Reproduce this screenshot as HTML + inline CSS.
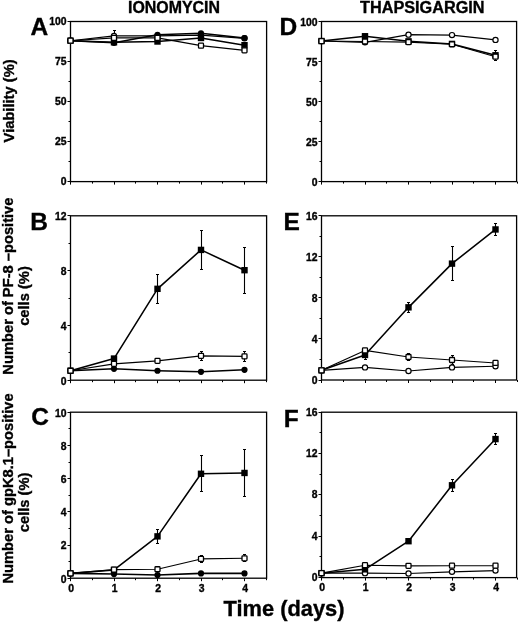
<!DOCTYPE html>
<html lang="en">
<head>
<meta charset="utf-8">
<title>Figure</title>
<style>
html,body{margin:0;padding:0;background:#fff;}
svg{display:block;filter:grayscale(1) blur(0.4px);}
text{font-family:"Liberation Sans", Arial, Helvetica, sans-serif;font-weight:bold;fill:#000;stroke:#000;stroke-width:0.35px;}
.tk{font-size:10.4px;}
.pl{font-size:24.5px;}
.tt{font-size:16px;}
.xl{font-size:21.5px;}
.yl{font-size:14.7px;}
</style>
</head>
<body>
<svg width="520" height="623" viewBox="0 0 520 623">
<rect x="0" y="0" width="520" height="623" fill="#fff"/>
<g>
<rect x="70.5" y="21.5" width="196.1" height="160.1" fill="none" stroke="#000" stroke-width="1.3"/>
<path d="M70.5 181.5h-3M70.5 161.5h-2M70.5 141.5h-3M70.5 121.5h-2M70.5 101.5h-3M70.5 81.5h-2M70.5 61.5h-3M70.5 41.5h-2M70.5 21.5h-3M70.5 181.6v3M92.5 181.6v2M114.5 181.6v3M135.5 181.6v2M157.5 181.6v3M179.5 181.6v2M201.5 181.6v3M222.5 181.6v2M244.5 181.6v3M266.5 181.6v2" stroke="#000" stroke-width="1" fill="none"/>
<text x="66.6" y="185.15" text-anchor="end" class="tk">0</text>
<text x="66.6" y="145.12" text-anchor="end" class="tk">25</text>
<text x="66.6" y="105.1" text-anchor="end" class="tk">50</text>
<text x="66.6" y="65.07" text-anchor="end" class="tk">75</text>
<text x="66.6" y="25.05" text-anchor="end" class="tk">100</text>
<text x="30.45" y="35.15" class="pl">A</text>
<polyline points="70.5,40.71 114,35.91 157.5,35.91 201,35.11 244.5,38.31" fill="none" stroke="#000" stroke-width="1.15" stroke-linejoin="round"/>
<polyline points="70.5,40.71 114,42.31 157.5,41.51 201,37.99 244.5,45.19" fill="none" stroke="#000" stroke-width="1.55" stroke-linejoin="round"/>
<polyline points="70.5,40.71 114,42.79 157.5,34.79 201,33.35 244.5,37.99" fill="none" stroke="#000" stroke-width="1.55" stroke-linejoin="round"/>
<polyline points="70.5,40.71 114,37.83 157.5,37.83 201,45.68 244.5,50.32" fill="none" stroke="#000" stroke-width="1.15" stroke-linejoin="round"/>
<path d="M114.5 30.5V44.5M113 30.5h3M113 44.5h3" stroke="#000" stroke-width="1.1" fill="none"/>
<circle cx="70.5" cy="40.71" r="2.6" fill="#fff" stroke="#000" stroke-width="1.2"/>
<circle cx="114" cy="35.91" r="2.6" fill="#fff" stroke="#000" stroke-width="1.2"/>
<circle cx="157.5" cy="35.91" r="2.6" fill="#fff" stroke="#000" stroke-width="1.2"/>
<circle cx="201" cy="35.11" r="2.6" fill="#fff" stroke="#000" stroke-width="1.2"/>
<circle cx="244.5" cy="38.31" r="2.6" fill="#fff" stroke="#000" stroke-width="1.2"/>
<rect x="67.3" y="37.51" width="6.4" height="6.4" fill="#000"/>
<rect x="110.8" y="39.11" width="6.4" height="6.4" fill="#000"/>
<rect x="154.3" y="38.31" width="6.4" height="6.4" fill="#000"/>
<rect x="197.8" y="34.79" width="6.4" height="6.4" fill="#000"/>
<rect x="241.3" y="41.99" width="6.4" height="6.4" fill="#000"/>
<circle cx="70.5" cy="40.71" r="3.1" fill="#000"/>
<circle cx="114" cy="42.79" r="3.1" fill="#000"/>
<circle cx="157.5" cy="34.79" r="3.1" fill="#000"/>
<circle cx="201" cy="33.35" r="3.1" fill="#000"/>
<circle cx="244.5" cy="37.99" r="3.1" fill="#000"/>
<rect x="68" y="38.21" width="5" height="5" rx="0.8" fill="#fff" stroke="#000" stroke-width="1.3"/>
<rect x="111.5" y="35.33" width="5" height="5" rx="0.8" fill="#fff" stroke="#000" stroke-width="1.3"/>
<rect x="155" y="35.33" width="5" height="5" rx="0.8" fill="#fff" stroke="#000" stroke-width="1.3"/>
<rect x="198.5" y="43.18" width="5" height="5" rx="0.8" fill="#fff" stroke="#000" stroke-width="1.3"/>
<rect x="242" y="47.82" width="5" height="5" rx="0.8" fill="#fff" stroke="#000" stroke-width="1.3"/>
</g>
<g>
<rect x="70.5" y="215.8" width="196.1" height="164.4" fill="none" stroke="#000" stroke-width="1.3"/>
<path d="M70.5 380.5h-3M70.5 352.5h-2M70.5 325.5h-3M70.5 298.5h-2M70.5 270.5h-3M70.5 243.5h-2M70.5 215.5h-3M70.5 380.2v3M92.5 380.2v2M114.5 380.2v3M135.5 380.2v2M157.5 380.2v3M179.5 380.2v2M201.5 380.2v3M222.5 380.2v2M244.5 380.2v3M266.5 380.2v2" stroke="#000" stroke-width="1" fill="none"/>
<text x="66.6" y="384.85" text-anchor="end" class="tk">0</text>
<text x="66.6" y="330.05" text-anchor="end" class="tk">4</text>
<text x="66.6" y="275.25" text-anchor="end" class="tk">8</text>
<text x="66.6" y="220.45" text-anchor="end" class="tk">12</text>
<text x="30.3" y="229.7" class="pl">B</text>
<polyline points="70.5,370.75 114,368.83 157.5,370.75 201,371.84 244.5,369.79" fill="none" stroke="#000" stroke-width="1.55" stroke-linejoin="round"/>
<polyline points="70.5,370.75 114,358.55 157.5,288.82 201,249.91 244.5,270.19" fill="none" stroke="#000" stroke-width="1.55" stroke-linejoin="round"/>
<polyline points="70.5,370.75 114,363.9 157.5,360.88 201,355.81 244.5,356.36" fill="none" stroke="#000" stroke-width="1.15" stroke-linejoin="round"/>
<path d="M157.5 274.5V303.5M156 274.5h3M156 303.5h3" stroke="#000" stroke-width="1.1" fill="none"/>
<path d="M201.5 230.5V269.5M200 230.5h3M200 269.5h3" stroke="#000" stroke-width="1.1" fill="none"/>
<path d="M244.5 247.5V293.5M243 247.5h3M243 293.5h3" stroke="#000" stroke-width="1.1" fill="none"/>
<path d="M201.5 351.5V360.5M200 351.5h3M200 360.5h3" stroke="#000" stroke-width="1.1" fill="none"/>
<path d="M244.5 351.5V361.5M243 351.5h3M243 361.5h3" stroke="#000" stroke-width="1.1" fill="none"/>
<circle cx="70.5" cy="370.75" r="3.1" fill="#000"/>
<circle cx="114" cy="368.83" r="3.1" fill="#000"/>
<circle cx="157.5" cy="370.75" r="3.1" fill="#000"/>
<circle cx="201" cy="371.84" r="3.1" fill="#000"/>
<circle cx="244.5" cy="369.79" r="3.1" fill="#000"/>
<rect x="67.3" y="367.55" width="6.4" height="6.4" fill="#000"/>
<rect x="110.8" y="355.35" width="6.4" height="6.4" fill="#000"/>
<rect x="154.3" y="285.62" width="6.4" height="6.4" fill="#000"/>
<rect x="197.8" y="246.71" width="6.4" height="6.4" fill="#000"/>
<rect x="241.3" y="266.99" width="6.4" height="6.4" fill="#000"/>
<rect x="68" y="368.25" width="5" height="5" rx="0.8" fill="#fff" stroke="#000" stroke-width="1.3"/>
<rect x="111.5" y="361.4" width="5" height="5" rx="0.8" fill="#fff" stroke="#000" stroke-width="1.3"/>
<rect x="155" y="358.38" width="5" height="5" rx="0.8" fill="#fff" stroke="#000" stroke-width="1.3"/>
<rect x="198.5" y="353.31" width="5" height="5" rx="0.8" fill="#fff" stroke="#000" stroke-width="1.3"/>
<rect x="242" y="353.86" width="5" height="5" rx="0.8" fill="#fff" stroke="#000" stroke-width="1.3"/>
</g>
<g>
<rect x="70.5" y="412.2" width="196.1" height="166" fill="none" stroke="#000" stroke-width="1.3"/>
<path d="M70.5 578.5h-3M70.5 561.5h-2M70.5 545.5h-3M70.5 528.5h-2M70.5 511.5h-3M70.5 495.5h-2M70.5 478.5h-3M70.5 462.5h-2M70.5 445.5h-3M70.5 428.5h-2M70.5 412.5h-3M70.5 578.2v3M92.5 578.2v2M114.5 578.2v3M135.5 578.2v2M157.5 578.2v3M179.5 578.2v2M201.5 578.2v3M222.5 578.2v2M244.5 578.2v3M266.5 578.2v2" stroke="#000" stroke-width="1" fill="none"/>
<text x="66.6" y="582.55" text-anchor="end" class="tk">0</text>
<text x="66.6" y="549.35" text-anchor="end" class="tk">2</text>
<text x="66.6" y="516.15" text-anchor="end" class="tk">4</text>
<text x="66.6" y="482.95" text-anchor="end" class="tk">6</text>
<text x="66.6" y="449.75" text-anchor="end" class="tk">8</text>
<text x="66.6" y="416.55" text-anchor="end" class="tk">10</text>
<text x="71.2" y="591.8" text-anchor="middle" class="tk">0</text>
<text x="114.7" y="591.8" text-anchor="middle" class="tk">1</text>
<text x="158.2" y="591.8" text-anchor="middle" class="tk">2</text>
<text x="201.7" y="591.8" text-anchor="middle" class="tk">3</text>
<text x="245.2" y="591.8" text-anchor="middle" class="tk">4</text>
<text x="31.2" y="424.65" class="pl">C</text>
<polyline points="70.5,573.39 114,574.05 157.5,575.05 201,573.39 244.5,573.39" fill="none" stroke="#000" stroke-width="1.55" stroke-linejoin="round"/>
<polyline points="70.5,573.39 114,569.9 157.5,536.37 201,473.79 244.5,472.96" fill="none" stroke="#000" stroke-width="1.55" stroke-linejoin="round"/>
<polyline points="70.5,573.39 114,569.57 157.5,569.24 201,558.94 244.5,558.28" fill="none" stroke="#000" stroke-width="1.15" stroke-linejoin="round"/>
<path d="M157.5 529.5V543.5M156 529.5h3M156 543.5h3" stroke="#000" stroke-width="1.1" fill="none"/>
<path d="M201.5 455.5V491.5M200 455.5h3M200 491.5h3" stroke="#000" stroke-width="1.1" fill="none"/>
<path d="M244.5 449.5V496.5M243 449.5h3M243 496.5h3" stroke="#000" stroke-width="1.1" fill="none"/>
<path d="M201.5 555.5V562.5M200 555.5h3M200 562.5h3" stroke="#000" stroke-width="1.1" fill="none"/>
<path d="M244.5 554.5V561.5M243 554.5h3M243 561.5h3" stroke="#000" stroke-width="1.1" fill="none"/>
<circle cx="70.5" cy="573.39" r="3.1" fill="#000"/>
<circle cx="114" cy="574.05" r="3.1" fill="#000"/>
<circle cx="157.5" cy="575.05" r="3.1" fill="#000"/>
<circle cx="201" cy="573.39" r="3.1" fill="#000"/>
<circle cx="244.5" cy="573.39" r="3.1" fill="#000"/>
<rect x="67.3" y="570.19" width="6.4" height="6.4" fill="#000"/>
<rect x="110.8" y="566.7" width="6.4" height="6.4" fill="#000"/>
<rect x="154.3" y="533.17" width="6.4" height="6.4" fill="#000"/>
<rect x="197.8" y="470.59" width="6.4" height="6.4" fill="#000"/>
<rect x="241.3" y="469.76" width="6.4" height="6.4" fill="#000"/>
<rect x="68" y="570.89" width="5" height="5" rx="0.8" fill="#fff" stroke="#000" stroke-width="1.3"/>
<rect x="111.5" y="567.07" width="5" height="5" rx="0.8" fill="#fff" stroke="#000" stroke-width="1.3"/>
<rect x="155" y="566.74" width="5" height="5" rx="0.8" fill="#fff" stroke="#000" stroke-width="1.3"/>
<rect x="198.5" y="556.44" width="5" height="5" rx="0.8" fill="#fff" stroke="#000" stroke-width="1.3"/>
<rect x="242" y="555.78" width="5" height="5" rx="0.8" fill="#fff" stroke="#000" stroke-width="1.3"/>
</g>
<g>
<rect x="321.5" y="21.5" width="195.1" height="160.1" fill="none" stroke="#000" stroke-width="1.3"/>
<path d="M321.5 181.5h-3M321.5 161.5h-2M321.5 141.5h-3M321.5 121.5h-2M321.5 101.5h-3M321.5 81.5h-2M321.5 61.5h-3M321.5 41.5h-2M321.5 21.5h-3M321.5 181.6v3M343.5 181.6v2M365.5 181.6v3M386.5 181.6v2M408.5 181.6v3M430.5 181.6v2M452.5 181.6v3M473.5 181.6v2M495.5 181.6v3M517.5 181.6v2" stroke="#000" stroke-width="1" fill="none"/>
<text x="317.6" y="185.65" text-anchor="end" class="tk">0</text>
<text x="317.6" y="145.62" text-anchor="end" class="tk">25</text>
<text x="317.6" y="105.6" text-anchor="end" class="tk">50</text>
<text x="317.6" y="65.57" text-anchor="end" class="tk">75</text>
<text x="317.6" y="25.55" text-anchor="end" class="tk">100</text>
<text x="279.5" y="35.35" class="pl">D</text>
<polyline points="321.5,41.03 365,42.31 408.5,34.63 452,35.11 495.5,39.91" fill="none" stroke="#000" stroke-width="1.15" stroke-linejoin="round"/>
<polyline points="321.5,41.03 365,36.23 408.5,41.35 452,43.91 495.5,55.28" fill="none" stroke="#000" stroke-width="1.55" stroke-linejoin="round"/>
<polyline points="321.5,41.03 365,41.51 408.5,42.15 452,44.23 495.5,56.72" fill="none" stroke="#000" stroke-width="1.15" stroke-linejoin="round"/>
<path d="M495.5 50.5V60.5M494 50.5h3M494 60.5h3" stroke="#000" stroke-width="1.1" fill="none"/>
<circle cx="321.5" cy="41.03" r="2.6" fill="#fff" stroke="#000" stroke-width="1.2"/>
<circle cx="365" cy="42.31" r="2.6" fill="#fff" stroke="#000" stroke-width="1.2"/>
<circle cx="408.5" cy="34.63" r="2.6" fill="#fff" stroke="#000" stroke-width="1.2"/>
<circle cx="452" cy="35.11" r="2.6" fill="#fff" stroke="#000" stroke-width="1.2"/>
<circle cx="495.5" cy="39.91" r="2.6" fill="#fff" stroke="#000" stroke-width="1.2"/>
<rect x="318.3" y="37.83" width="6.4" height="6.4" fill="#000"/>
<rect x="361.8" y="33.03" width="6.4" height="6.4" fill="#000"/>
<rect x="405.3" y="38.15" width="6.4" height="6.4" fill="#000"/>
<rect x="448.8" y="40.71" width="6.4" height="6.4" fill="#000"/>
<rect x="492.3" y="52.08" width="6.4" height="6.4" fill="#000"/>
<rect x="319" y="38.53" width="5" height="5" rx="0.8" fill="#fff" stroke="#000" stroke-width="1.3"/>
<rect x="362.5" y="39.01" width="5" height="5" rx="0.8" fill="#fff" stroke="#000" stroke-width="1.3"/>
<rect x="406" y="39.65" width="5" height="5" rx="0.8" fill="#fff" stroke="#000" stroke-width="1.3"/>
<rect x="449.5" y="41.73" width="5" height="5" rx="0.8" fill="#fff" stroke="#000" stroke-width="1.3"/>
<rect x="493" y="54.22" width="5" height="5" rx="0.8" fill="#fff" stroke="#000" stroke-width="1.3"/>
</g>
<g>
<rect x="321.5" y="215.8" width="195.1" height="164.2" fill="none" stroke="#000" stroke-width="1.3"/>
<path d="M321.5 380.5h-3M321.5 359.5h-2M321.5 338.5h-3M321.5 318.5h-2M321.5 297.5h-3M321.5 277.5h-2M321.5 256.5h-3M321.5 236.5h-2M321.5 215.5h-3M321.5 380v3M343.5 380v2M365.5 380v3M386.5 380v2M408.5 380v3M430.5 380v2M452.5 380v3M473.5 380v2M495.5 380v3M517.5 380v2" stroke="#000" stroke-width="1" fill="none"/>
<text x="317.6" y="384.45" text-anchor="end" class="tk">0</text>
<text x="317.6" y="343.4" text-anchor="end" class="tk">4</text>
<text x="317.6" y="302.35" text-anchor="end" class="tk">8</text>
<text x="317.6" y="261.3" text-anchor="end" class="tk">12</text>
<text x="317.6" y="220.25" text-anchor="end" class="tk">16</text>
<text x="283.4" y="229.5" class="pl">E</text>
<polyline points="321.5,370.35 365,367.38 408.5,370.97 452,367.38 495.5,366.25" fill="none" stroke="#000" stroke-width="1.15" stroke-linejoin="round"/>
<polyline points="321.5,370.35 365,354.96 408.5,307.34 452,263.62 495.5,229.45" fill="none" stroke="#000" stroke-width="1.55" stroke-linejoin="round"/>
<polyline points="321.5,370.35 365,350.44 408.5,357.01 452,359.99 495.5,362.96" fill="none" stroke="#000" stroke-width="1.15" stroke-linejoin="round"/>
<path d="M365.5 350.5V359.5M364 350.5h3M364 359.5h3" stroke="#000" stroke-width="1.1" fill="none"/>
<path d="M408.5 302.5V312.5M407 302.5h3M407 312.5h3" stroke="#000" stroke-width="1.1" fill="none"/>
<path d="M452.5 246.5V280.5M451 246.5h3M451 280.5h3" stroke="#000" stroke-width="1.1" fill="none"/>
<path d="M495.5 223.5V235.5M494 223.5h3M494 235.5h3" stroke="#000" stroke-width="1.1" fill="none"/>
<path d="M408.5 353.5V360.5M407 353.5h3M407 360.5h3" stroke="#000" stroke-width="1.1" fill="none"/>
<path d="M452.5 355.5V364.5M451 355.5h3M451 364.5h3" stroke="#000" stroke-width="1.1" fill="none"/>
<circle cx="321.5" cy="370.35" r="2.6" fill="#fff" stroke="#000" stroke-width="1.2"/>
<circle cx="365" cy="367.38" r="2.6" fill="#fff" stroke="#000" stroke-width="1.2"/>
<circle cx="408.5" cy="370.97" r="2.6" fill="#fff" stroke="#000" stroke-width="1.2"/>
<circle cx="452" cy="367.38" r="2.6" fill="#fff" stroke="#000" stroke-width="1.2"/>
<circle cx="495.5" cy="366.25" r="2.6" fill="#fff" stroke="#000" stroke-width="1.2"/>
<rect x="318.3" y="367.15" width="6.4" height="6.4" fill="#000"/>
<rect x="361.8" y="351.76" width="6.4" height="6.4" fill="#000"/>
<rect x="405.3" y="304.14" width="6.4" height="6.4" fill="#000"/>
<rect x="448.8" y="260.42" width="6.4" height="6.4" fill="#000"/>
<rect x="492.3" y="226.25" width="6.4" height="6.4" fill="#000"/>
<rect x="319" y="367.85" width="5" height="5" rx="0.8" fill="#fff" stroke="#000" stroke-width="1.3"/>
<rect x="362.5" y="347.94" width="5" height="5" rx="0.8" fill="#fff" stroke="#000" stroke-width="1.3"/>
<rect x="406" y="354.51" width="5" height="5" rx="0.8" fill="#fff" stroke="#000" stroke-width="1.3"/>
<rect x="449.5" y="357.49" width="5" height="5" rx="0.8" fill="#fff" stroke="#000" stroke-width="1.3"/>
<rect x="493" y="360.46" width="5" height="5" rx="0.8" fill="#fff" stroke="#000" stroke-width="1.3"/>
</g>
<g>
<rect x="321.5" y="412.2" width="195.1" height="165.4" fill="none" stroke="#000" stroke-width="1.3"/>
<path d="M321.5 577.5h-3M321.5 556.5h-2M321.5 536.5h-3M321.5 515.5h-2M321.5 494.5h-3M321.5 474.5h-2M321.5 453.5h-3M321.5 432.5h-2M321.5 412.5h-3M321.5 577.6v3M343.5 577.6v2M365.5 577.6v3M386.5 577.6v2M408.5 577.6v3M430.5 577.6v2M452.5 577.6v3M473.5 577.6v2M495.5 577.6v3M517.5 577.6v2" stroke="#000" stroke-width="1" fill="none"/>
<text x="317.6" y="580.95" text-anchor="end" class="tk">0</text>
<text x="317.6" y="539.6" text-anchor="end" class="tk">4</text>
<text x="317.6" y="498.25" text-anchor="end" class="tk">8</text>
<text x="317.6" y="456.9" text-anchor="end" class="tk">12</text>
<text x="317.6" y="415.55" text-anchor="end" class="tk">16</text>
<text x="322.2" y="591.2" text-anchor="middle" class="tk">0</text>
<text x="365.7" y="591.2" text-anchor="middle" class="tk">1</text>
<text x="409.2" y="591.2" text-anchor="middle" class="tk">2</text>
<text x="452.7" y="591.2" text-anchor="middle" class="tk">3</text>
<text x="496.2" y="591.2" text-anchor="middle" class="tk">4</text>
<text x="283.85" y="426.8" class="pl">F</text>
<polyline points="321.5,573.15 365,573.15 408.5,573.47 452,571.81 495.5,570.57" fill="none" stroke="#000" stroke-width="1.15" stroke-linejoin="round"/>
<polyline points="321.5,573.15 365,569.33 408.5,541.21 452,485.29 495.5,439.08" fill="none" stroke="#000" stroke-width="1.55" stroke-linejoin="round"/>
<polyline points="321.5,573.15 365,565.2 408.5,565.82 452,565.71 495.5,565.71" fill="none" stroke="#000" stroke-width="1.15" stroke-linejoin="round"/>
<path d="M452.5 479.5V491.5M451 479.5h3M451 491.5h3" stroke="#000" stroke-width="1.1" fill="none"/>
<path d="M495.5 433.5V444.5M494 433.5h3M494 444.5h3" stroke="#000" stroke-width="1.1" fill="none"/>
<circle cx="321.5" cy="573.15" r="2.6" fill="#fff" stroke="#000" stroke-width="1.2"/>
<circle cx="365" cy="573.15" r="2.6" fill="#fff" stroke="#000" stroke-width="1.2"/>
<circle cx="408.5" cy="573.47" r="2.6" fill="#fff" stroke="#000" stroke-width="1.2"/>
<circle cx="452" cy="571.81" r="2.6" fill="#fff" stroke="#000" stroke-width="1.2"/>
<circle cx="495.5" cy="570.57" r="2.6" fill="#fff" stroke="#000" stroke-width="1.2"/>
<rect x="318.3" y="569.95" width="6.4" height="6.4" fill="#000"/>
<rect x="361.8" y="566.13" width="6.4" height="6.4" fill="#000"/>
<rect x="405.3" y="538.01" width="6.4" height="6.4" fill="#000"/>
<rect x="448.8" y="482.09" width="6.4" height="6.4" fill="#000"/>
<rect x="492.3" y="435.88" width="6.4" height="6.4" fill="#000"/>
<rect x="319" y="570.65" width="5" height="5" rx="0.8" fill="#fff" stroke="#000" stroke-width="1.3"/>
<rect x="362.5" y="562.7" width="5" height="5" rx="0.8" fill="#fff" stroke="#000" stroke-width="1.3"/>
<rect x="406" y="563.32" width="5" height="5" rx="0.8" fill="#fff" stroke="#000" stroke-width="1.3"/>
<rect x="449.5" y="563.21" width="5" height="5" rx="0.8" fill="#fff" stroke="#000" stroke-width="1.3"/>
<rect x="493" y="563.21" width="5" height="5" rx="0.8" fill="#fff" stroke="#000" stroke-width="1.3"/>
</g>
<text x="174" y="13.2" text-anchor="middle" class="tt" textLength="92" lengthAdjust="spacingAndGlyphs">IONOMYCIN</text>
<text x="422.3" y="13.1" text-anchor="middle" class="tt" textLength="124.6" lengthAdjust="spacingAndGlyphs">THAPSIGARGIN</text>
<text x="284" y="616.2" text-anchor="middle" class="xl" textLength="121" lengthAdjust="spacingAndGlyphs">Time (days)</text>
<text transform="translate(13.6,100.9) rotate(-90)" text-anchor="middle" class="yl">Viability (%)</text>
<text transform="translate(13.3,286.1) rotate(-90)" text-anchor="middle" class="yl">Number of PF-8 –positive</text>
<text transform="translate(28.6,296) rotate(-90)" text-anchor="middle" class="yl">cells (%)</text>
<text transform="translate(13.3,488.5) rotate(-90)" text-anchor="middle" class="yl">Number of gpK8.1–positive</text>
<text transform="translate(28.6,502.4) rotate(-90)" text-anchor="middle" class="yl">cells (%)</text>
</svg>
</body>
</html>
